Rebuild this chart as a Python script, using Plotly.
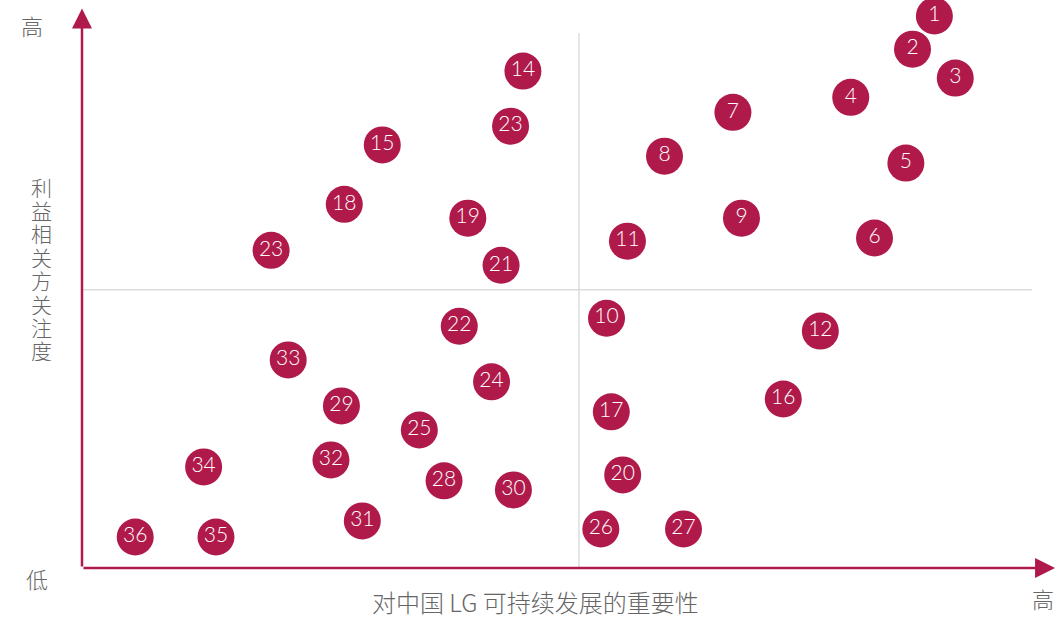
import plotly.graph_objects as go

# Stakeholder materiality matrix data (x: importance to LG China, y: stakeholder attention), 0-100 scale
labels = ["1", "2", "3", "4", "5", "6", "7", "8", "9", "11", "10", "12", "16", "17", "20", "26", "27",
          "14", "23", "15", "18", "19", "23", "21", "22", "33", "24", "29", "25", "32", "34", "28", "30",
          "31", "36", "35"]
x_vals = [89.7, 87.4, 91.9, 80.9, 86.7, 83.4, 68.5, 61.3, 69.4, 57.4, 55.2, 77.7, 73.8, 55.7, 56.9, 54.6, 63.3,
          46.4, 45.1, 31.6, 27.6, 40.6, 19.9, 44.1, 39.7, 21.7, 43.1, 27.3, 35.5, 26.2, 12.8, 38.1, 45.4,
          29.5, 5.6, 14.1]
y_vals = [103.2, 97.0, 91.6, 88.0, 75.7, 61.7, 85.2, 77.0, 65.4, 61.1, 46.7, 44.3, 31.6, 29.2, 17.4, 7.3, 7.3,
          92.9, 82.6, 79.1, 68.0, 65.4, 59.4, 56.6, 45.2, 38.9, 34.8, 30.3, 25.8, 20.2, 18.9, 16.3, 14.6,
          8.8, 5.8, 5.8]
x_mid = 52.3
y_mid = 52.0
x_title = "对中国 LG 可持续发展的重要性"
y_title = "利益相关方关注度"
low_label = "低"
high_label = "高"

RED = "#b01a4b"
GRAY = "#666666"
FONT = "Lato, 'Noto Sans CJK SC', sans-serif"
CJK = "'Noto Sans CJK SC', sans-serif"

X_MAX = 102.5
Y_MAX = 104.7

fig = go.Figure()

# quadrant lines
fig.add_trace(go.Scatter(x=[x_mid, x_mid], y=[0, 100], mode="lines",
                         line=dict(color="#dddddd", width=1.5), hoverinfo="skip", showlegend=False))
fig.add_trace(go.Scatter(x=[0, 100], y=[y_mid, y_mid], mode="lines",
                         line=dict(color="#dddddd", width=1.5), hoverinfo="skip", showlegend=False))

fig.add_trace(go.Scatter(
    x=x_vals, y=y_vals, mode="markers+text", text=labels,
    marker=dict(size=37, color=RED, line=dict(width=0)),
    textfont=dict(color="white", size=21, family=FONT, weight=300),
    textposition="middle center", showlegend=False, cliponaxis=False,
))

fig.update_xaxes(range=[0, X_MAX], visible=False, fixedrange=True)
fig.update_yaxes(range=[0, Y_MAX], visible=False, fixedrange=True)

# axis lines with arrowheads
fig.add_annotation(x=X_MAX - 0.1, y=0, ax=0, ay=0, xref="x", yref="y", axref="x", ayref="y",
                   showarrow=True, arrowhead=2, arrowsize=1.6, arrowwidth=2.5, arrowcolor=RED, text="")
fig.add_annotation(x=0, y=Y_MAX - 0.1, ax=0, ay=0, xref="x", yref="y", axref="x", ayref="y",
                   showarrow=True, arrowhead=2, arrowsize=1.6, arrowwidth=2.5, arrowcolor=RED, text="")

txt = dict(showarrow=False, xref="paper", yref="paper", xanchor="center", yanchor="middle")
f22 = dict(size=22, color=GRAY, family=CJK, weight=300)
fig.add_annotation(text=high_label, x=-0.0513, y=0.9696, font=f22, **txt)
fig.add_annotation(text=low_label, x=-0.0462, y=-0.0179, font=f22, **txt)
fig.add_annotation(text=high_label, x=0.9867, y=-0.0536, font=f22, **txt)
fig.add_annotation(text=x_title, x=0.4651, y=-0.0607, font=dict(f22, size=24), **txt)
for i, ch in enumerate(y_title):
    py = 186 + 23.4 * i
    fig.add_annotation(text=ch, x=-0.0411, y=(568 - py) / 560, height=23, borderpad=0,
                       font=dict(f22, size=21), **txt)

fig.update_layout(
    width=1056, height=618,
    margin=dict(l=82, r=0, t=8, b=50, autoexpand=False),
    plot_bgcolor="white", paper_bgcolor="white",
)

fig.write_html("out.html", config={"displayModeBar": False},
               post_script="document.body.style.margin='0';document.body.style.overflow='hidden';")
